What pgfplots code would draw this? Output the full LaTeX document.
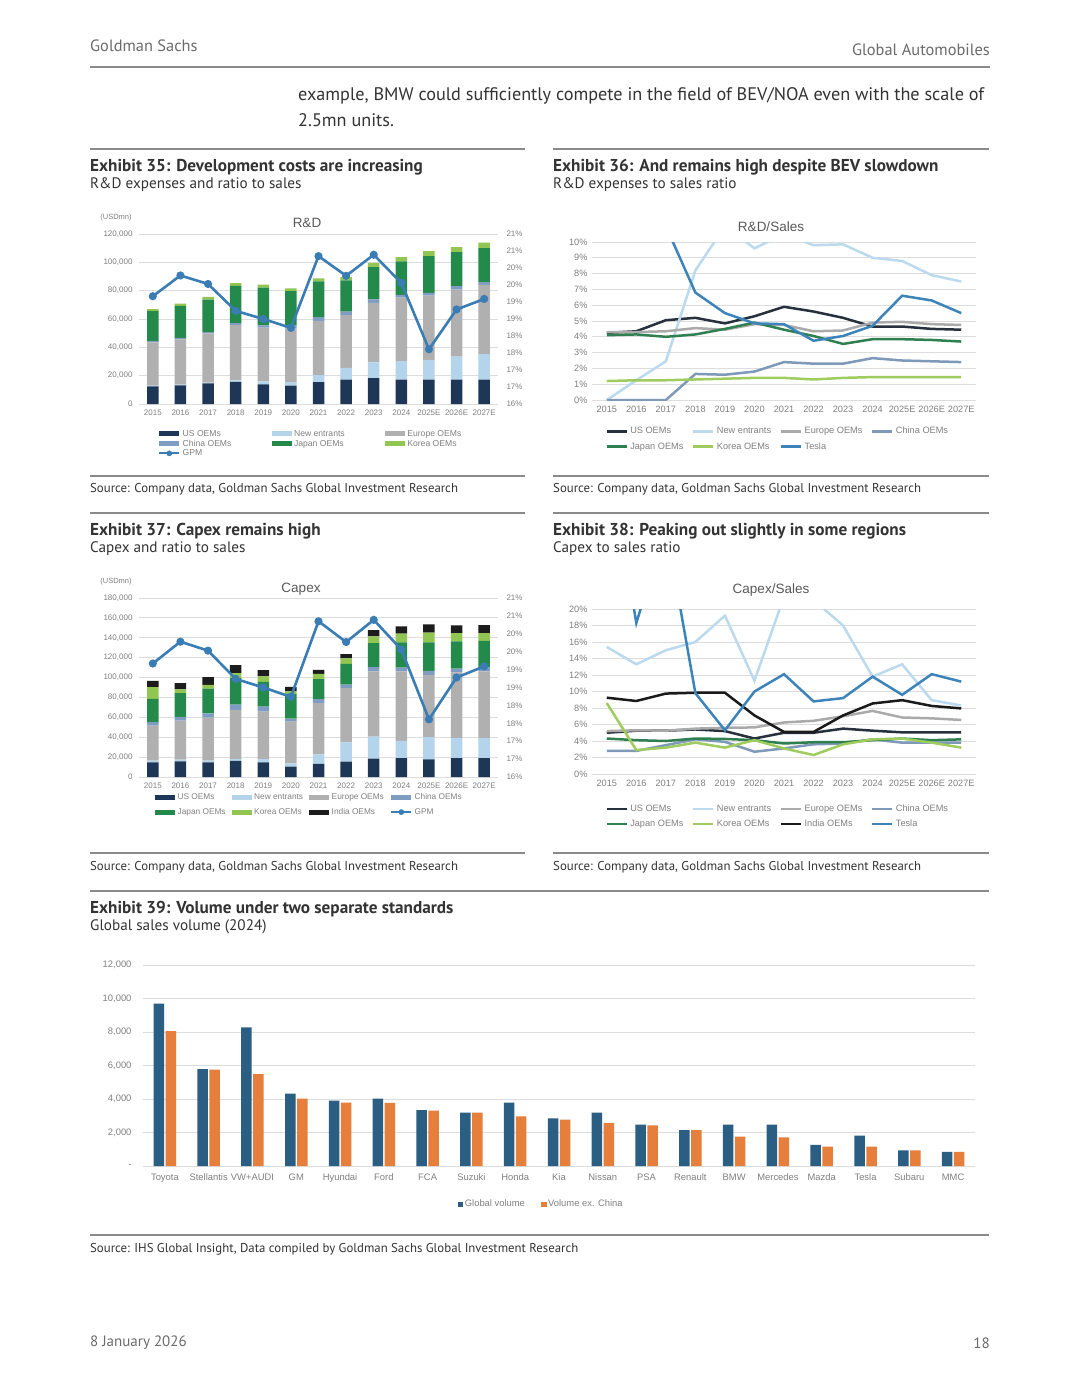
\documentclass[border=0pt]{standalone}
\usepackage{fontspec}
\setmainfont{Liberation Sans}
\newfontfamily\gs{PT Sans}
\usepackage{pgfplots}
\usepackage{pgfplotstable}
\pgfplotsset{compat=1.18}

\definecolor{usc}{HTML}{1F3757}
\definecolor{nec}{HTML}{B3D4EB}
\definecolor{euc}{HTML}{B0B0B0}
\definecolor{cnc}{HTML}{7F9DC2}
\definecolor{jpc}{HTML}{248A4B}
\definecolor{krc}{HTML}{92C653}
\definecolor{inc}{HTML}{1C1C1C}
\definecolor{gpmc}{HTML}{3A7DB5}
\definecolor{usl}{HTML}{27303D}
\definecolor{nel}{HTML}{BBDAEE}
\definecolor{eul}{HTML}{AAAAAA}
\definecolor{cnl}{HTML}{7F99B8}
\definecolor{jpl}{HTML}{2F7F50}
\definecolor{krl}{HTML}{9FCC5F}
\definecolor{inl}{HTML}{1A1A1A}
\definecolor{tsl}{HTML}{3D84BA}
\definecolor{glob}{HTML}{2A5E82}
\definecolor{exch}{HTML}{E77F3C}
\definecolor{tickc}{HTML}{808080}
\definecolor{gridc}{HTML}{DDDDDD}
\definecolor{ttlc}{HTML}{595959}
\definecolor{rulec}{HTML}{8A8A8A}
\definecolor{bodyc}{HTML}{333333}
\definecolor{hdrc}{HTML}{6B6B6B}

% R&D (USDmn), stacked by region, and GPM (%)
\pgfplotstableread{
x us ne eu cn jp kr gpm
0 12500 500 30500 1000 21000 1500 19.17
1 13200 500 31900 1000 22600 1700 19.78
2 14600 500 34700 1000 22900 1900 19.53
3 15600 1000 39000 1500 26300 1900 18.74
4 13900 2100 37900 1600 26700 2100 18.50
5 13000 2400 38000 1900 24300 2100 18.24
6 15400 4900 38300 2800 25100 2100 20.35
7 17200 8300 37300 2400 22000 2600 19.77
8 18200 11100 42000 2600 22700 3100 20.39
9 17200 13000 44900 1900 23600 3100 19.56
10 17200 14000 45300 1900 26000 3600 17.61
11 17200 16300 47300 2400 24000 3600 18.78
12 17200 18000 48900 1900 24100 3800 19.09
}\rdtab

% R&D to sales (%)
\pgfplotstableread{
x us ne eu cn jp kr ts
0 4.25 0.0 4.3 0.0 4.1 1.2 17.7
1 4.35 1.25 4.3 0.0 4.15 1.25 11.0
2 5.05 2.45 4.35 0.0 4.0 1.25 11.0
3 5.2 8.2 4.55 1.65 4.15 1.3 6.8
4 4.85 11.0 4.45 1.6 4.5 1.35 5.5
5 5.3 9.6 4.8 1.8 4.9 1.4 4.85
6 5.9 10.5 4.75 2.4 4.45 1.4 4.8
7 5.6 9.8 4.35 2.3 4.05 1.3 3.75
8 5.2 9.85 4.4 2.3 3.55 1.4 4.05
9 4.65 9.0 4.9 2.65 3.85 1.45 4.7
10 4.65 8.8 4.95 2.5 3.85 1.45 6.6
11 4.5 7.9 4.8 2.45 3.8 1.45 6.3
12 4.45 7.5 4.75 2.4 3.7 1.45 5.5
}\rdstab

% Capex (USDmn), stacked by region, and GPM (%)
\pgfplotstableread{
x us ne eu cn jp kr in gpm
0 14800 1700 35200 3400 23500 11700 6400 19.17
1 15800 1700 39200 3700 23900 3700 6400 19.78
2 14800 1700 43300 4300 24900 3700 7700 19.53
3 16100 2000 49400 5400 26500 5000 8100 18.74
4 14800 3300 47700 5100 24800 5400 6400 18.50
5 10400 3400 41900 3100 24800 2400 4700 18.24
6 13100 9700 51400 4000 20200 5400 4000 20.35
7 15400 19500 54400 3700 20800 5400 4300 19.77
8 18500 22100 65500 4400 24200 6700 6300 20.39
9 19100 17200 69800 4000 25200 8800 7300 19.56
10 17800 22200 62800 4000 28500 9800 8400 17.61
11 19100 19900 66100 4000 27200 8500 7700 18.78
12 19100 19900 67100 4000 26900 7800 8000 19.09
}\cxtab

% Capex to sales (%)
\pgfplotstableread{
x us ne eu cn jp kr in ts
0 5.0 15.4 5.2 2.8 4.3 8.6 9.25 40
1 5.25 13.3 5.3 2.8 4.1 2.9 8.85 18.3
2 5.25 15.0 5.25 3.5 4.0 3.2 9.75 30
3 5.4 16.0 5.5 4.2 4.3 3.8 9.85 9.8
4 5.2 19.2 5.6 3.9 4.25 3.2 9.85 5.3
5 4.3 11.3 5.65 2.7 4.1 4.1 7.1 10.0
6 5.0 21.5 6.25 3.1 3.7 3.1 5.1 12.1
7 5.0 21.1 6.45 3.6 3.85 2.3 5.1 8.8
8 5.5 18.0 7.0 3.7 3.85 3.6 7.1 9.2
9 5.25 11.8 7.65 4.2 4.1 4.2 8.55 11.8
10 5.05 13.3 6.85 3.8 4.3 4.3 8.95 9.6
11 5.05 8.95 6.75 3.8 4.1 3.8 8.25 12.1
12 5.05 8.3 6.55 3.8 4.2 3.2 7.95 11.2
}\cxstab

% Global sales volume 2024 ('000 units)
\pgfplotstableread{
x glob exch
0 9700 8050
1 5780 5760
2 8270 5480
3 4320 4020
4 3900 3790
5 4020 3770
6 3330 3310
7 3190 3190
8 3790 2970
9 2850 2770
10 3190 2570
11 2470 2430
12 2150 2150
13 2470 1750
14 2470 1710
15 1260 1160
16 1810 1160
17 940 940
18 840 840
}\voltab

\pgfplotsset{
  gsbase/.style={scale only axis, anchor=south west,
    axis line style={draw=none}, major tick length=0pt,
    scaled y ticks=false,
    /pgf/number format/assume math mode=true,
    ymajorgrids, grid style={gridc, line width=0.9pt},
    tick label style={text=tickc},
    legend cell align=left},
  years/.style={xmin=-0.5, xmax=12.5, xtick={0,...,12},
    xticklabels={2015,2016,2017,2018,2019,2020,2021,2022,2023,2024,2025E,2026E,2027E}},
  barleg/.style={legend image code/.code={\fill[##1] (0pt,-2.6pt) rectangle (20pt,2.6pt);}},
  gpmleg/.style={legend image code/.code={\draw[gpmc, line width=2.2pt] (0pt,0pt) -- (20pt,0pt);
    \fill[gpmc] (10pt,0pt) circle (2.6pt);}},
  lineleg/.style={legend image code/.code={\draw[##1] (0pt,0pt) -- (20pt,0pt);}},
  gpmaxis/.style={gsbase, years, hide x axis, ymajorgrids=false,
    axis y line*=right, ymin=16, ymax=21, ytick={16,16.5,...,21},
    yticklabels={16\%,17\%,17\%,18\%,18\%,19\%,19\%,20\%,20\%,21\%,21\%},
    yticklabel style={xshift=5pt, font=\fontsize{8}{9}\selectfont}},
  ratioaxis/.style={gsbase, years, width=384pt, lineleg,
    tick label style={font=\fontsize{9.2}{10}\selectfont},
    xticklabel style={yshift=-3pt}, yticklabel style={xshift=-1pt},
    legend columns=4,
    legend style={anchor=north west, draw=none, fill=none, inner sep=0pt,
      font=\fontsize{9.2}{10}\selectfont, text=tickc,
      nodes={inner sep=0.5pt, text height=0.72em, text depth=0.2em},
      /tikz/every odd column/.append style={column sep=2pt},
      /tikz/every even column/.append style={column sep=8pt},
      row sep=5pt}},
  rline/.style={line width=2.5pt, mark=none}
}

\begin{document}
\begin{tikzpicture}[x=1pt,y=1pt]
\path[use as bounding box] (0,0) rectangle (1080,-1397);
\fill[white] (0,0) rectangle (1080,-1397);

% header and running text
\node[anchor=west, inner sep=0, text=hdrc, font=\gs\fontsize{16.4}{18}\selectfont] at (90,-46) {Goldman Sachs};
\node[anchor=east, inner sep=0, text=hdrc, font=\gs\fontsize{16.4}{18}\selectfont] at (990,-50) {Global Automobiles};
\draw[rulec, line width=1.5pt] (90,-67) -- (990,-67);
\node[anchor=west, inner sep=0, text=bodyc, font=\gs\fontsize{18.2}{20}\selectfont] at (298,-96) {example, BMW could sufficiently compete in the field of BEV/NOA even with the scale of};
\node[anchor=west, inner sep=0, text=bodyc, font=\gs\fontsize{18.2}{20}\selectfont] at (298,-120) {2.5mn units.};

% exhibit frames
\foreach \y in {149,476,513,853} {
  \draw[rulec, line width=1.4pt] (90,-\y) -- (525,-\y);
  \draw[rulec, line width=1.4pt] (553,-\y) -- (989,-\y);
}
\draw[rulec, line width=1.4pt] (90,-891) -- (989,-891);
\draw[rulec, line width=1.4pt] (90,-1235) -- (989,-1235);

\tikzset{ttl/.style={anchor=west, inner sep=0, text=bodyc, font=\gs\bfseries\fontsize{17.2}{19}\selectfont},
  sub/.style={anchor=west, inner sep=0, text=bodyc, font=\gs\fontsize{15.2}{17}\selectfont},
  src/.style={anchor=west, inner sep=0, text=bodyc, font=\gs\fontsize{12.8}{14}\selectfont},
  ctl/.style={inner sep=0, text=ttlc, font=\fontsize{13.5}{15}\selectfont}}

\node[ttl] at (90,-167) {Exhibit 35: Development costs are increasing};
\node[sub] at (90,-185) {R\&D expenses and ratio to sales};
\node[ttl] at (553,-167) {Exhibit 36: And remains high despite BEV slowdown};
\node[sub] at (553,-185) {R\&D expenses to sales ratio};
\node[src] at (90,-489) {Source: Company data, Goldman Sachs Global Investment Research};
\node[src] at (553,-489) {Source: Company data, Goldman Sachs Global Investment Research};
\node[ttl] at (90,-531) {Exhibit 37: Capex remains high};
\node[sub] at (90,-549) {Capex and ratio to sales};
\node[ttl] at (553,-531) {Exhibit 38: Peaking out slightly in some regions};
\node[sub] at (553,-549) {Capex to sales ratio};
\node[src] at (90,-867) {Source: Company data, Goldman Sachs Global Investment Research};
\node[src] at (553,-867) {Source: Company data, Goldman Sachs Global Investment Research};
\node[ttl] at (90,-909) {Exhibit 39: Volume under two separate standards};
\node[sub] at (90,-927) {Global sales volume (2024)};
\node[src] at (90,-1249) {Source: IHS Global Insight, Data compiled by Goldman Sachs Global Investment Research};
\node[anchor=west, inner sep=0, text=hdrc, font=\gs\fontsize{15}{17}\selectfont] at (90,-1343) {8 January 2026};
\node[anchor=east, inner sep=0, text=hdrc, font=\gs\fontsize{15}{17}\selectfont] at (990,-1343) {18};

% chart titles
\node[ctl] at (307,-223) {R\&D};
\node[inner sep=0, text=tickc, font=\fontsize{7.5}{8}\selectfont] at (116,-218) {(USDmn)};
\node[ctl] at (771,-227) {R\&D/Sales};
\node[ctl] at (301,-589) {Capex};
\node[inner sep=0, text=tickc, font=\fontsize{7.5}{8}\selectfont] at (116,-582) {(USDmn)};
\node[ctl] at (771,-590) {Capex/Sales};

% Exhibit 35: R&D stacked bars
\begin{axis}[gsbase, years, at={(139pt,-404pt)}, width=359pt, height=170pt,
  ybar stacked, bar width=11.5pt, barleg,
  ymin=0, ymax=120000, ytick={0,20000,40000,60000,80000,100000,120000},
  yticklabels={0,{20,000},{40,000},{60,000},{80,000},{100,000},{120,000}},
  tick label style={font=\fontsize{8}{9}\selectfont},
  xticklabel style={yshift=-2pt}, yticklabel style={xshift=-3pt},
  legend columns=3,
  legend style={at={(0.053,-0.145)}, anchor=north west, draw=none, fill=none, inner sep=0pt,
    font=\fontsize{8.6}{9}\selectfont, text=tickc,
    nodes={inner sep=0.3pt, text height=0.72em, text depth=0.2em},
    /tikz/every odd column/.append style={column sep=2pt},
    /tikz/every even column/.append style={column sep=40pt},
    row sep=0pt}]
\addplot[fill=usc, draw=none] table[x=x, y=us] {\rdtab};
\addplot[fill=nec, draw=none] table[x=x, y=ne] {\rdtab};
\addplot[fill=euc, draw=none] table[x=x, y=eu] {\rdtab};
\addplot[fill=cnc, draw=none] table[x=x, y=cn] {\rdtab};
\addplot[fill=jpc, draw=none] table[x=x, y=jp] {\rdtab};
\addplot[fill=krc, draw=none] table[x=x, y=kr] {\rdtab};
\legend{US OEMs, New entrants, Europe OEMs, China OEMs, Japan OEMs, Korea OEMs}
\addlegendimage{gpmleg}
\addlegendentry{GPM}
\end{axis}
\begin{axis}[gpmaxis, at={(139pt,-404pt)}, width=359pt, height=170pt]
\addplot[gpmc, line width=2.6pt, mark=*, mark size=2.7pt] table[x=x, y=gpm] {\rdtab};
\end{axis}

% Exhibit 36: R&D to sales
\begin{axis}[ratioaxis, at={(592pt,-400pt)}, height=158pt,
  ymin=0, ymax=10, ytick={0,1,...,10}, yticklabel={\pgfmathprintnumber{\tick}\%},
  legend style={at={(0.034,-0.165)}}]
\addplot[rline, usl] table[x=x, y=us] {\rdstab};
\addplot[rline, nel] table[x=x, y=ne] {\rdstab};
\addplot[rline, eul] table[x=x, y=eu] {\rdstab};
\addplot[rline, cnl] table[x=x, y=cn] {\rdstab};
\addplot[rline, jpl] table[x=x, y=jp] {\rdstab};
\addplot[rline, krl] table[x=x, y=kr] {\rdstab};
\addplot[rline, tsl] table[x=x, y=ts] {\rdstab};
\legend{US OEMs, New entrants, Europe OEMs, China OEMs, Japan OEMs, Korea OEMs, Tesla}
\end{axis}

% Exhibit 37: Capex stacked bars
\begin{axis}[gsbase, years, at={(139pt,-777pt)}, width=359pt, height=179pt,
  ybar stacked, bar width=11.5pt, barleg,
  ymin=0, ymax=180000, ytick={0,20000,40000,60000,80000,100000,120000,140000,160000,180000},
  yticklabels={0,{20,000},{40,000},{60,000},{80,000},{100,000},{120,000},{140,000},{160,000},{180,000}},
  tick label style={font=\fontsize{8}{9}\selectfont},
  xticklabel style={yshift=-2pt}, yticklabel style={xshift=-3pt},
  legend columns=4,
  legend style={at={(0.045,-0.085)}, anchor=north west, draw=none, fill=none, inner sep=0pt,
    font=\fontsize{8.3}{9}\selectfont, text=tickc,
    nodes={inner sep=0.3pt, text height=0.72em, text depth=0.2em},
    /tikz/every odd column/.append style={column sep=2pt},
    /tikz/every even column/.append style={column sep=6pt},
    row sep=5pt}]
\addplot[fill=usc, draw=none] table[x=x, y=us] {\cxtab};
\addplot[fill=nec, draw=none] table[x=x, y=ne] {\cxtab};
\addplot[fill=euc, draw=none] table[x=x, y=eu] {\cxtab};
\addplot[fill=cnc, draw=none] table[x=x, y=cn] {\cxtab};
\addplot[fill=jpc, draw=none] table[x=x, y=jp] {\cxtab};
\addplot[fill=krc, draw=none] table[x=x, y=kr] {\cxtab};
\addplot[fill=inc, draw=none] table[x=x, y=in] {\cxtab};
\legend{US OEMs, New entrants, Europe OEMs, China OEMs, Japan OEMs, Korea OEMs, India OEMs}
\addlegendimage{gpmleg}
\addlegendentry{GPM}
\end{axis}
\begin{axis}[gpmaxis, at={(139pt,-777pt)}, width=359pt, height=179pt]
\addplot[gpmc, line width=2.6pt, mark=*, mark size=2.7pt] table[x=x, y=gpm] {\cxtab};
\end{axis}

% Exhibit 38: Capex to sales
\begin{axis}[ratioaxis, at={(592pt,-774pt)}, height=165pt,
  ymin=0, ymax=20, ytick={0,2,...,20}, yticklabel={\pgfmathprintnumber{\tick}\%},
  legend style={at={(0.034,-0.18)}}]
\addplot[rline, usl] table[x=x, y=us] {\cxstab};
\addplot[rline, nel] table[x=x, y=ne] {\cxstab};
\addplot[rline, eul] table[x=x, y=eu] {\cxstab};
\addplot[rline, cnl] table[x=x, y=cn] {\cxstab};
\addplot[rline, jpl] table[x=x, y=jp] {\cxstab};
\addplot[rline, krl] table[x=x, y=kr] {\cxstab};
\addplot[rline, inl] table[x=x, y=in] {\cxstab};
\addplot[rline, tsl] table[x=x, y=ts] {\cxstab};
\legend{US OEMs, New entrants, Europe OEMs, China OEMs, Japan OEMs, Korea OEMs, India OEMs, Tesla}
\end{axis}

% Exhibit 39: global volume
\begin{axis}[gsbase, at={(143pt,-1166pt)}, width=832pt, height=201pt,
  ybar=1.5pt, bar width=10.5pt,
  xmin=-0.5, xmax=18.5, xtick={0,...,18},
  xticklabels={Toyota,Stellantis,VW+AUDI,GM,Hyundai,Ford,FCA,Suzuki,Honda,Kia,Nissan,PSA,Renault,BMW,Mercedes,Mazda,Tesla,Subaru,MMC},
  ymin=0, ymax=12000, ytick={0,2000,4000,6000,8000,10000,12000},
  yticklabels={{-},{2,000},{4,000},{6,000},{8,000},{10,000},{12,000}},
  tick label style={font=\fontsize{9.4}{10}\selectfont},
  xticklabel style={yshift=-4pt}, yticklabel style={xshift=-8pt},
  legend columns=2,
  legend image code/.code={\fill[#1] (0pt,-2.6pt) rectangle (5.2pt,2.6pt);},
  legend style={at={(0.478,-0.19)}, anchor=center, draw=none, fill=none, inner sep=0pt,
    font=\fontsize{9.4}{10}\selectfont, text=tickc,
    nodes={inner sep=0.5pt},
    /tikz/every odd column/.append style={column sep=1pt},
    /tikz/every even column/.append style={column sep=16pt}}]
\addplot[fill=glob, draw=none] table[x=x, y=glob] {\voltab};
\addplot[fill=exch, draw=none] table[x=x, y=exch] {\voltab};
\legend{Global volume, Volume ex. China}
\end{axis}
\end{tikzpicture}
\end{document}
